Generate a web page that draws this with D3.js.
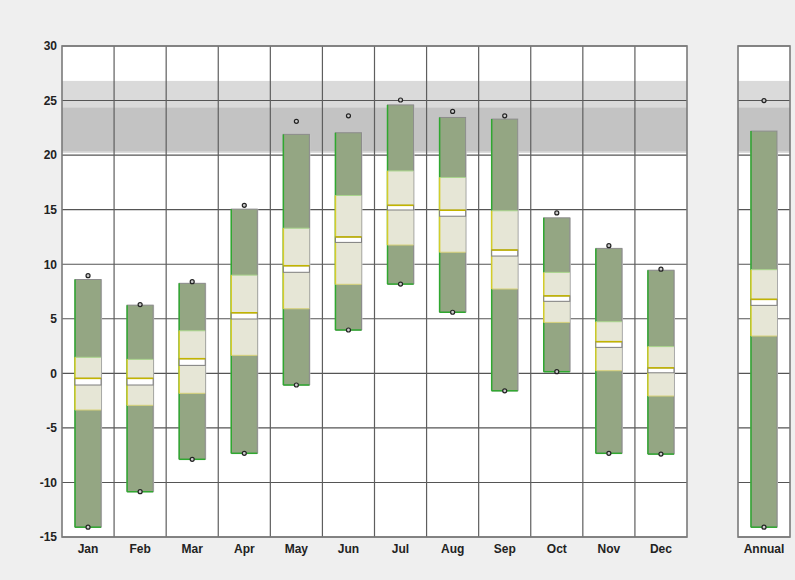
<!DOCTYPE html>
<html>
<head>
<meta charset="utf-8">
<script src="https://cdn.jsdelivr.net/npm/d3@7/dist/d3.min.js"></script>
<style>
  html, body { margin: 0; padding: 0; background: #efefef; }
  svg { display: block; }
  .tick text { font-family: "Liberation Sans", Arial, sans-serif; font-weight: bold; font-size: 12px; fill: #222; }
</style>
</head>
<body>
<svg id="chart" width="795" height="580"></svg>
<script>
// Monthly temperature distribution (°C)
const months = ["Jan", "Feb", "Mar", "Apr", "May", "Jun", "Jul", "Aug", "Sep", "Oct", "Nov", "Dec"];
const annualLabel = ["Annual"];

// per-month statistics, Jan..Dec then Annual
const recordHigh = [8.95, 6.3, 8.4, 15.4, 23.1, 23.6, 25.05, 24.0, 23.6, 14.7, 11.7, 9.55, 25.0];
const boxHigh    = [8.6, 6.25, 8.25, 15.05, 21.9, 22.05, 24.6, 23.45, 23.3, 14.25, 11.45, 9.45, 22.2];
const upperQ     = [1.47, 1.28, 3.9, 9.0, 13.3, 16.3, 18.55, 17.95, 14.9, 9.25, 4.73, 2.45, 9.5];
const median     = [-0.46, -0.46, 1.34, 5.55, 9.86, 12.5, 15.4, 14.95, 11.3, 7.1, 2.9, 0.5, 6.78];
const mean       = [-1.07, -1.07, 0.73, 4.98, 9.26, 12.0, 14.97, 14.4, 10.75, 6.6, 2.38, 0.05, 6.23];
const lowerQ     = [-3.36, -2.93, -1.83, 1.65, 5.92, 8.16, 11.76, 11.1, 7.73, 4.67, 0.24, -2.08, 3.42];
const boxLow     = [-14.1, -10.85, -7.88, -7.33, -1.07, 3.97, 8.18, 5.6, -1.6, 0.15, -7.33, -7.4, -14.1];
const recordLow  = [-14.1, -10.85, -7.88, -7.33, -1.07, 3.97, 8.18, 5.6, -1.6, 0.15, -7.33, -7.4, -14.1];

// reference bands
const outerBand = [20.2, 26.8];
const innerBand = [20.35, 24.35];

const yTicks = [-15, -10, -5, 0, 5, 10, 15, 20, 25, 30];

const svg = d3.select("#chart");
const plotTop = 46, plotBottom = 537;

const y = d3.scaleLinear().domain([-15, 30]).range([plotBottom, plotTop]);
const xMain = d3.scaleBand().domain(months).range([62, 687]).padding(0);
const xAnnual = d3.scaleBand().domain(annualLabel).range([738, 790]).padding(0);

const rows = months.concat(annualLabel).map((m, i) => ({
  name: m,
  x: i < 12 ? xMain : xAnnual,
  rh: recordHigh[i], hi: boxHigh[i], q3: upperQ[i], med: median[i],
  mean: mean[i], q1: lowerQ[i], lo: boxLow[i], rl: recordLow[i]
}));

function panel(xs) {
  const [x0, x1] = xs.range();
  const g = svg.append("g");
  g.append("rect").attr("x", x0).attr("y", plotTop).attr("width", x1 - x0).attr("height", plotBottom - plotTop).attr("fill", "#fff");
  g.append("rect").attr("x", x0).attr("y", y(outerBand[1])).attr("width", x1 - x0)
    .attr("height", y(outerBand[0]) - y(outerBand[1])).attr("fill", "#dadada");
  g.append("rect").attr("x", x0).attr("y", y(innerBand[1])).attr("width", x1 - x0)
    .attr("height", y(innerBand[0]) - y(innerBand[1])).attr("fill", "#c3c3c3");
  // horizontal grid
  g.selectAll("line.h").data(yTicks).join("line")
    .attr("x1", x0).attr("x2", x1).attr("y1", d => y(d)).attr("y2", d => y(d))
    .attr("stroke", "#555").attr("stroke-width", 1.1);
  // column separators
  const seps = xs.domain().slice(1).map(d => xs(d));
  g.selectAll("line.v").data(seps).join("line")
    .attr("x1", d => d).attr("x2", d => d).attr("y1", plotTop).attr("y2", plotBottom)
    .attr("stroke", "#5e5e5e").attr("stroke-width", 1.2);
  // frame
  g.append("rect").attr("x", x0).attr("y", plotTop).attr("width", x1 - x0).attr("height", plotBottom - plotTop)
    .attr("fill", "none").attr("stroke", "#7a7a7a").attr("stroke-width", 1.6);
  return g;
}

panel(xMain);
panel(xAnnual);

// boxes
const boxes = svg.append("g");
rows.forEach(r => {
  const bw = r.x.bandwidth() * 0.5;
  const cx = r.x(r.name) + r.x.bandwidth() / 2;
  const L = cx - bw / 2, R = cx + bw / 2;
  const g = boxes.append("g");
  // full range
  g.append("rect").attr("x", L + 1).attr("y", y(r.hi)).attr("width", bw).attr("height", y(r.lo) - y(r.hi))
    .attr("fill", "#c9c9c9");
  g.append("rect").attr("x", L).attr("y", y(r.hi)).attr("width", bw).attr("height", y(r.lo) - y(r.hi))
    .attr("fill", "#94a683").attr("stroke", "#8c8c8c").attr("stroke-width", 1);
  g.append("line").attr("x1", L).attr("x2", L).attr("y1", y(r.hi)).attr("y2", y(r.lo))
    .attr("stroke", "#2fa82f").attr("stroke-width", 1.5);
  g.append("line").attr("x1", L).attr("x2", R).attr("y1", y(r.lo)).attr("y2", y(r.lo))
    .attr("stroke", "#2fa82f").attr("stroke-width", 1.5);
  // interquartile range
  g.append("rect").attr("x", L).attr("y", y(r.q3)).attr("width", bw).attr("height", y(r.q1) - y(r.q3))
    .attr("fill", "#e6e6d6");
  g.append("line").attr("x1", L).attr("x2", R).attr("y1", y(r.q3)).attr("y2", y(r.q3))
    .attr("stroke", "#a9d58c").attr("stroke-width", 1);
  g.append("line").attr("x1", L).attr("x2", R).attr("y1", y(r.q1)).attr("y2", y(r.q1))
    .attr("stroke", "#d8d27a").attr("stroke-width", 1);
  g.append("line").attr("x1", L).attr("x2", L).attr("y1", y(r.q3)).attr("y2", y(r.q1))
    .attr("stroke", "#d4cc2a").attr("stroke-width", 1.5);
  // median / mean band
  g.append("rect").attr("x", L).attr("y", y(r.med)).attr("width", bw).attr("height", y(r.mean) - y(r.med))
    .attr("fill", "#fff").attr("stroke", "#7d7d7d").attr("stroke-width", 1);
  g.append("line").attr("x1", L).attr("x2", R).attr("y1", y(r.med)).attr("y2", y(r.med))
    .attr("stroke", "#c2b400").attr("stroke-width", 1.6);
  // record extremes
  [r.rh, r.rl].forEach(v => {
    g.append("circle").attr("cx", cx).attr("cy", y(v)).attr("r", 2)
      .attr("fill", "#ccc").attr("stroke", "#222").attr("stroke-width", 1.2);
  });
});

// axes
const yAxis = d3.axisLeft(y).tickValues(yTicks).tickFormat(d => String(d)).tickSize(0).tickPadding(5);
svg.append("g").attr("transform", "translate(62,0)").call(yAxis).call(g => g.select(".domain").remove());

const xAxisMain = d3.axisBottom(xMain).tickSize(0).tickPadding(7);
svg.append("g").attr("transform", `translate(0,${plotBottom})`).call(xAxisMain).call(g => g.select(".domain").remove());

const xAxisAnnual = d3.axisBottom(xAnnual).tickSize(0).tickPadding(7);
svg.append("g").attr("transform", `translate(0,${plotBottom})`).call(xAxisAnnual).call(g => g.select(".domain").remove());
</script>
</body>
</html>
